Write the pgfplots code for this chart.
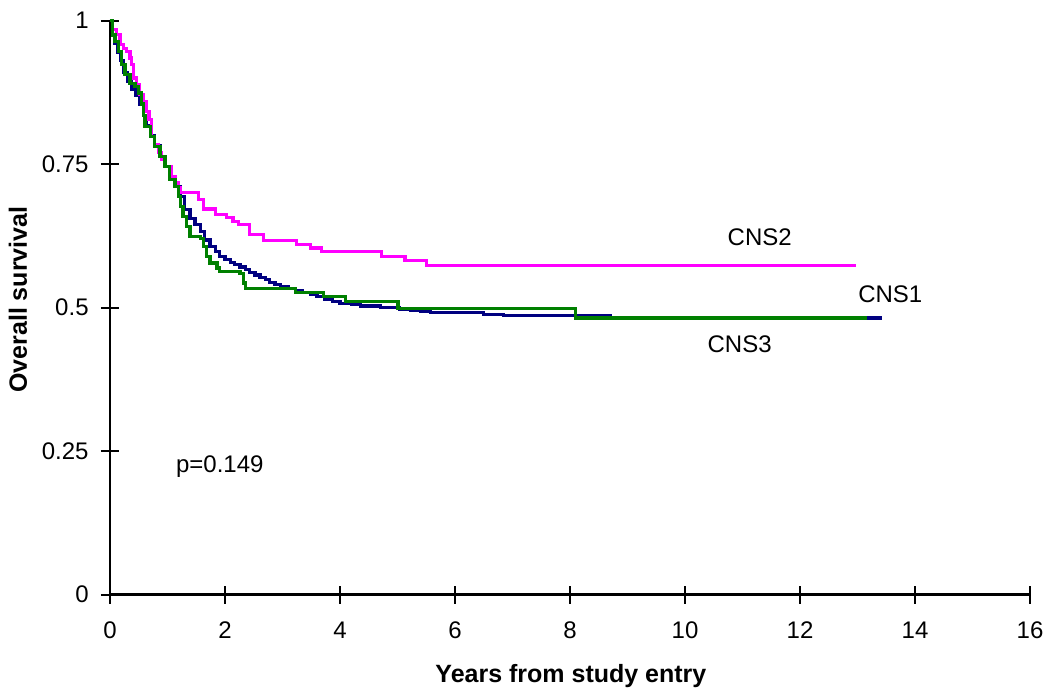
\documentclass[border=0pt]{standalone}
\usepackage{pgfplots}
\pgfplotsset{compat=1.18}
\usepackage{fontspec}
\setmainfont{Liberation Sans}
\definecolor{cnsone}{HTML}{000080}
\definecolor{cnstwo}{HTML}{FF00FF}
\definecolor{cnsthree}{HTML}{008000}
\begin{document}
\begin{tikzpicture}
\fontsize{12}{14}\selectfont
\begin{axis}[
  scale only axis,
  width=460pt, height=287pt,
  xmin=0, xmax=16, ymin=0, ymax=1,
  axis x line=bottom, axis y line=left,
  axis line style={-, line width=1.4pt, black},
  tick align=center,
  major tick length=9pt,
  tick style={line width=1.1pt, black},
  xtick={0,2,...,16},
  ytick={0,0.25,0.5,0.75,1},
  yticklabels={0,0.25,0.5,0.75,1},
  /pgf/number format/assume math mode=true,
  ticklabel style={font=\fontsize{12}{14}\selectfont},
  xticklabel style={yshift=-5pt},
  yticklabel style={xshift=-2pt},
  xlabel={\textbf{Years from study entry}},
  ylabel={\textbf{Overall survival}},
  every axis x label/.style={at={(axis description cs:0.501,-0.141)}, anchor=center, font=\fontsize{12.5}{14}\selectfont},
  every axis y label/.style={at={(axis description cs:-0.1,0.514)}, rotate=90, anchor=center, font=\fontsize{12.5}{14}\selectfont},
  clip=false,
  const plot,
  every axis plot/.append style={line width=1.6pt, line join=miter},
]
% CNS1
\addplot[cnsone, no marks] coordinates {
(0,1) (0.04,0.975) (0.08,0.96) (0.13,0.945) (0.18,0.93) (0.24,0.91) (0.3,0.895)
(0.38,0.88) (0.45,0.87) (0.52,0.855) (0.58,0.835) (0.64,0.818) (0.7,0.80)
(0.78,0.782) (0.87,0.764) (0.957,0.746) (1.04,0.729) (1.13,0.711) (1.22,0.694)
(1.30,0.671) (1.39,0.656) (1.48,0.645) (1.57,0.633) (1.65,0.618) (1.74,0.607)
(1.83,0.598) (1.91,0.589) (2.0,0.584) (2.09,0.579) (2.17,0.575) (2.26,0.571)
(2.35,0.566) (2.43,0.562) (2.52,0.557) (2.61,0.553) (2.70,0.549) (2.78,0.544)
(2.87,0.540) (2.96,0.536) (3.1,0.533) (3.22,0.530) (3.35,0.527) (3.48,0.523)
(3.6,0.519) (3.74,0.514) (3.87,0.511) (4.0,0.508) (4.2,0.505) (4.35,0.503)
(4.7,0.501) (5.04,0.497) (5.22,0.495) (5.4,0.493) (5.57,0.491) (6.49,0.488)
(6.84,0.486) (8.70,0.482) (13.42,0.482)
};
% CNS2
\addplot[cnstwo, no marks] coordinates {
(0,1) (0.05,0.985) (0.116,0.976) (0.174,0.958) (0.232,0.952) (0.29,0.947)
(0.348,0.935) (0.377,0.923) (0.406,0.900) (0.464,0.889) (0.52,0.871) (0.58,0.859)
(0.64,0.842) (0.68,0.828) (0.725,0.798) (0.78,0.785) (0.84,0.770) (0.9,0.758)
(0.957,0.746) (1.07,0.729) (1.13,0.718) (1.19,0.709) (1.22,0.700) (1.54,0.688)
(1.62,0.672) (1.83,0.662) (2.03,0.657) (2.14,0.650) (2.23,0.645) (2.43,0.627)
(2.67,0.617) (3.25,0.610) (3.48,0.604) (3.68,0.598) (4.72,0.589) (5.13,0.582)
(5.51,0.573) (12.97,0.573)
};
% CNS3
\addplot[cnsthree, no marks] coordinates {
(0,1) (0.04,0.975) (0.087,0.964) (0.145,0.947) (0.203,0.923) (0.26,0.906)
(0.348,0.891) (0.435,0.886) (0.49,0.874) (0.55,0.855) (0.58,0.835) (0.61,0.815)
(0.70,0.798) (0.78,0.781) (0.87,0.764) (0.957,0.746) (1.04,0.723) (1.13,0.711)
(1.19,0.694) (1.22,0.676) (1.27,0.659) (1.33,0.642) (1.39,0.624) (1.57,0.621)
(1.62,0.607) (1.68,0.589) (1.74,0.578) (1.86,0.569) (1.91,0.563) (2.26,0.560)
(2.32,0.543) (2.35,0.534) (3.22,0.527) (3.71,0.520) (4.09,0.511) (5.01,0.499)
(8.10,0.482) (13.16,0.482)
};
\node at (axis cs:11.30,0.622) {CNS2};
\node at (axis cs:13.57,0.523) {CNS1};
\node at (axis cs:10.95,0.436) {CNS3};
\node at (axis cs:1.91,0.223) {p=0.149};
\end{axis}
\pgfresetboundingbox
\path[use as bounding box] (-55pt,-51pt) rectangle (470pt,297.35pt);
\end{tikzpicture}
\end{document}
